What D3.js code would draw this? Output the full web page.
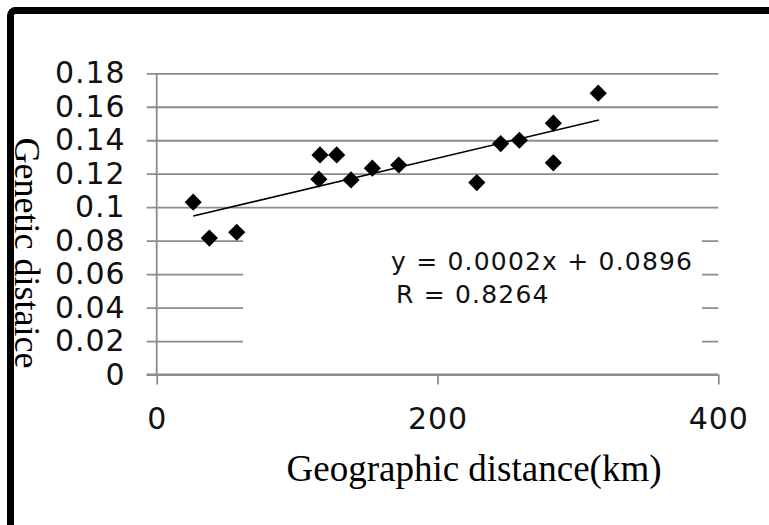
<!DOCTYPE html>
<html>
<head>
<meta charset="utf-8">
<script src="https://cdn.jsdelivr.net/npm/d3@7"></script>
<style>
body { margin: 0; background: #fff; }
svg { display: block; }
</style>
</head>
<body>
<svg></svg>
<script>
// values
var distKm = [26, 37.5, 57, 115.5, 116.3, 128.2, 138.4, 153.6, 172.4, 228, 245, 258.3, 282.5, 282.5, 314.5]
var geneticDist = [0.103, 0.0815, 0.085, 0.1167, 0.1312, 0.1312, 0.1163, 0.1233, 0.1252, 0.1147, 0.138, 0.14, 0.1502, 0.1265, 0.1681]
var trendX = [26, 315]
var trendY = [0.0947, 0.1521]
var yTicks = [0, 0.02, 0.04, 0.06, 0.08, 0.1, 0.12, 0.14, 0.16, 0.18]
var xTicks = [0, 200, 400]
var equationText = ["y = 0.0002x + 0.0896", "R = 0.8264"]

var screen = {width: 769, height: 525}
var margins = {top: 73.3, left: 156.7}
var width = 561.6
var height = 301.2
var gridColor = "#8c8c8c"

var svg = d3.select("svg")
    .attr("width", screen.width)
    .attr("height", screen.height)

// black frame, runs off right and bottom
svg.append("rect")
    .attr("x", 10.5).attr("y", 10.5)
    .attr("width", 820).attr("height", 620)
    .attr("rx", 5)
    .attr("fill", "none")
    .attr("stroke", "#000")
    .attr("stroke-width", 7)

var xScale = d3.scaleLinear().domain([0, 400]).range([0, width])
var yScale = d3.scaleLinear().domain([0, 0.18]).range([height, 0])

var graph = svg.append("g")
    .attr("transform", "translate(" + margins.left + "," + margins.top + ")")

// y axis + gridlines
var yAxis = d3.axisLeft(yScale)
    .tickValues(yTicks)
    .tickSize(-width)
    .tickPadding(31)
    .tickFormat(function(d){ return d3.format("")(+d.toFixed(2)) })

var yg = graph.append("g").attr("class", "yaxis").call(yAxis)
yg.select(".domain").attr("stroke", gridColor).attr("stroke-width", 1.8)
    .attr("d", "M0,0V" + height)
yg.selectAll(".tick line")
    .attr("x1", -10)
    .attr("stroke", gridColor)
    .attr("stroke-width", 1.8)
yg.selectAll(".tick text")
    .style("font-family", "DejaVu Sans")
    .style("font-size", "30px")
    .style("letter-spacing", "1px")
    .attr("fill", "#111")

// white label box over the gridlines
graph.append("rect")
    .attr("x", 243 - margins.left)
    .attr("y", 223 - margins.top)
    .attr("width", 702 - 243)
    .attr("height", 136)
    .attr("fill", "#fff")

// x axis
var xAxis = d3.axisBottom(xScale)
    .tickValues(xTicks)
    .tickSizeInner(10)
    .tickSizeOuter(0)
    .tickPadding(23)

var xg = graph.append("g")
    .attr("transform", "translate(0," + height + ")")
    .call(xAxis)
xg.select(".domain").attr("stroke", gridColor).attr("stroke-width", 1.8)
    .attr("d", "M-10,0H" + width)
xg.selectAll(".tick line").attr("stroke", gridColor).attr("stroke-width", 1.8)
xg.selectAll(".tick text")
    .style("font-family", "DejaVu Sans")
    .style("font-size", "30px")
    .style("letter-spacing", "1px")
    .attr("fill", "#111")

// trend line
var lineGenerator = d3.line()
    .x(function(d){ return xScale(d[0]) })
    .y(function(d){ return yScale(d[1]) })

graph.append("path")
    .datum(d3.zip(trendX, trendY))
    .attr("d", lineGenerator)
    .attr("fill", "none")
    .attr("stroke", "#000")
    .attr("stroke-width", 1.6)

// diamonds
var diamond = "M0,-8.6L8.6,0L0,8.6L-8.6,0Z"
graph.selectAll(".pt")
    .data(d3.zip(distKm, geneticDist))
    .enter()
    .append("path")
    .attr("class", "pt")
    .attr("d", diamond)
    .attr("transform", function(d){ return "translate(" + xScale(d[0]) + "," + yScale(d[1]) + ")" })
    .attr("fill", "#000")

// equation label
svg.append("text")
    .attr("x", 391).attr("y", 270)
    .style("font-family", "DejaVu Sans")
    .style("font-size", "25px")
    .style("letter-spacing", "1.2px")
    .attr("fill", "#111")
    .text(equationText[0])
svg.append("text")
    .attr("x", 396).attr("y", 303)
    .style("font-family", "DejaVu Sans")
    .style("font-size", "25px")
    .style("letter-spacing", "1.2px")
    .attr("fill", "#111")
    .text(equationText[1])

// axis titles
svg.append("text")
    .attr("transform", "translate(15,253) rotate(90)")
    .attr("text-anchor", "middle")
    .style("font-family", "Liberation Serif")
    .style("font-size", "36px")
    .attr("fill", "#000")
    .text("Genetic distaice")

svg.append("text")
    .attr("x", 474).attr("y", 481)
    .attr("text-anchor", "middle")
    .style("font-family", "Liberation Serif")
    .style("font-size", "37px")
    .attr("fill", "#000")
    .text("Geographic distance(km)")
</script>
</body>
</html>
